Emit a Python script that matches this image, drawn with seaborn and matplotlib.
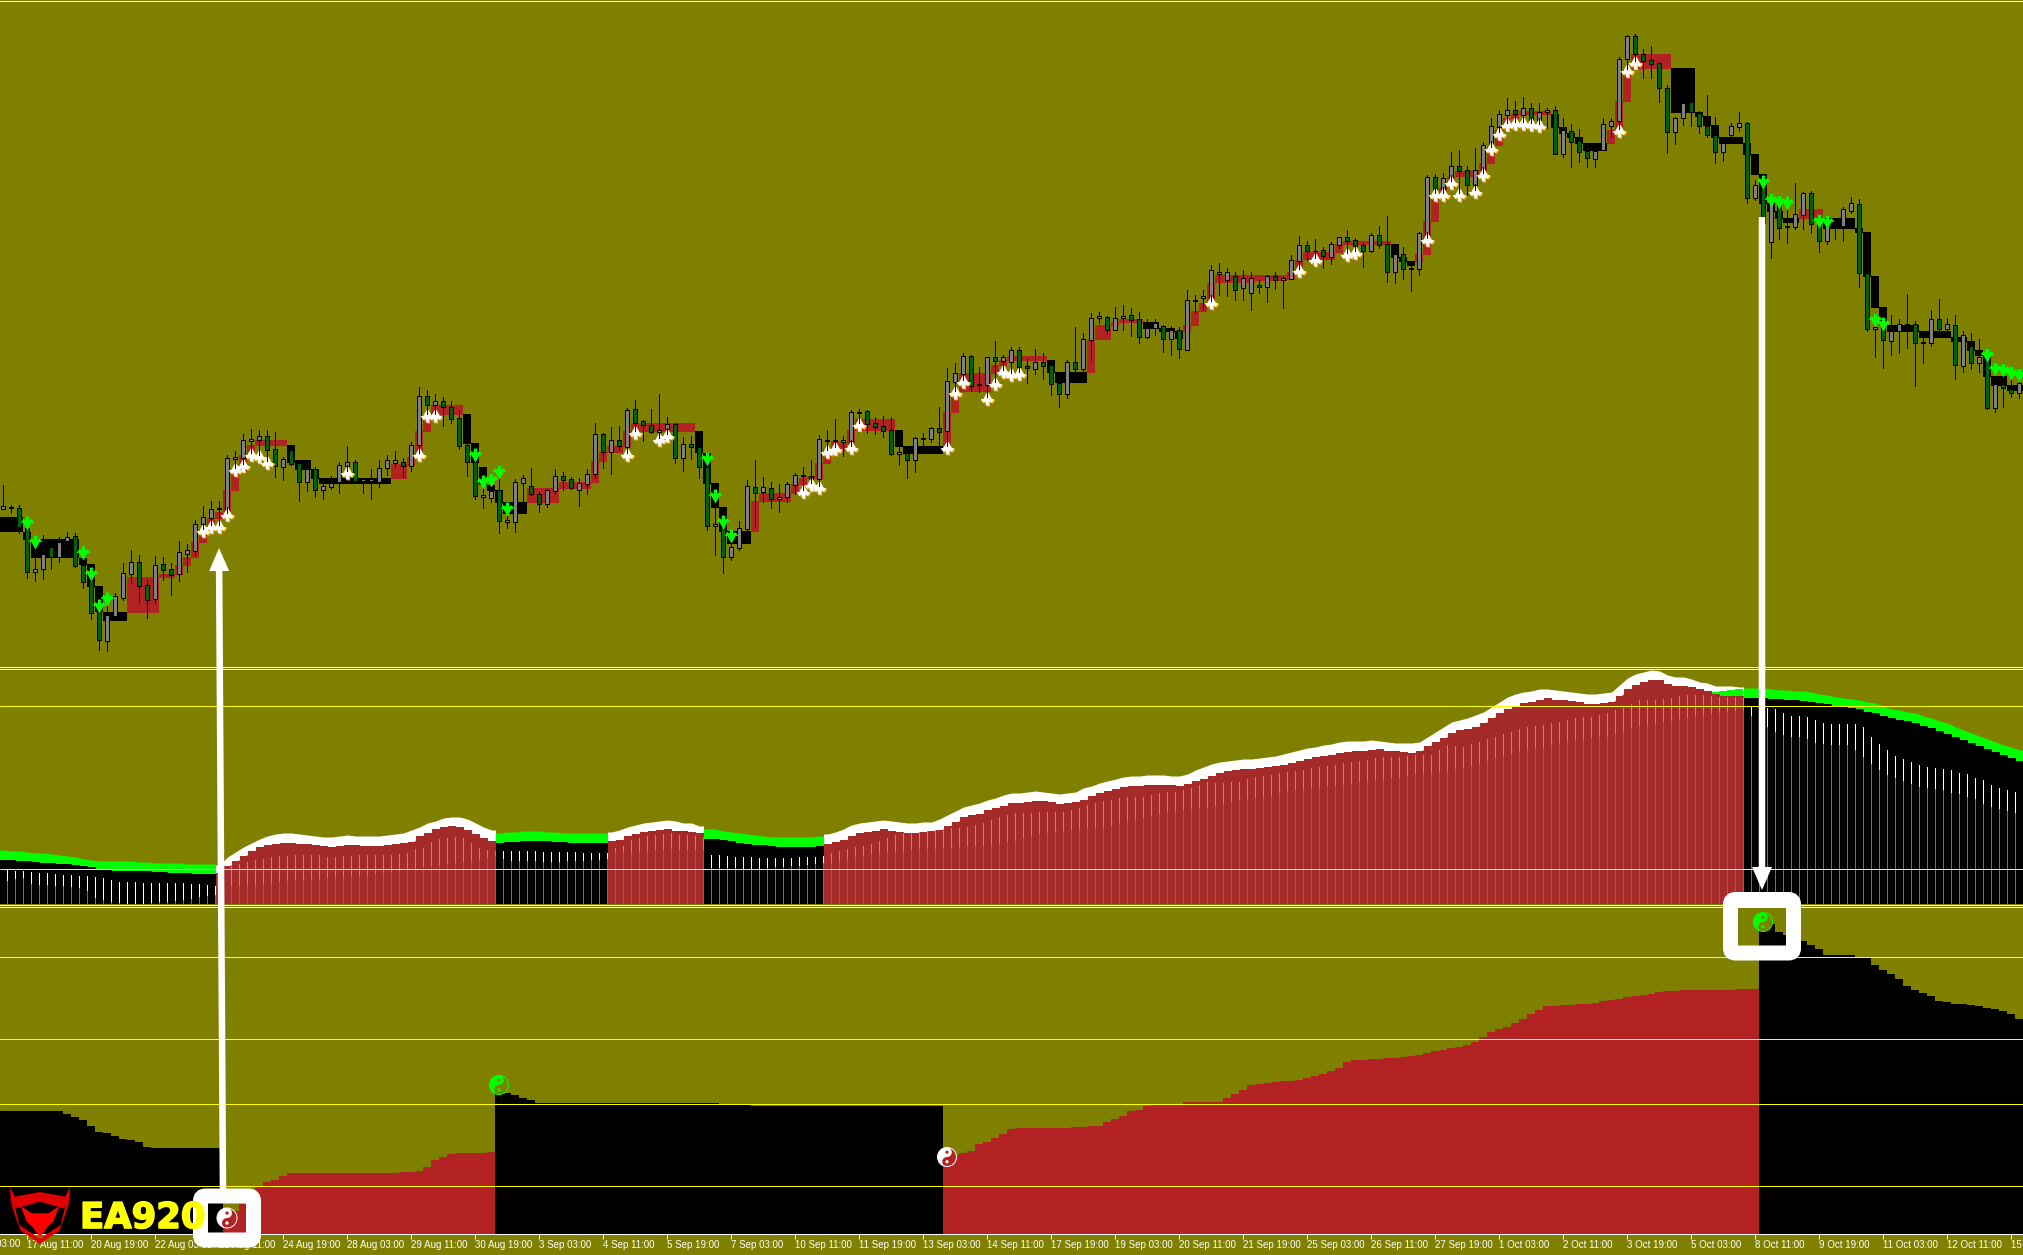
import numpy as np
import seaborn as sns
import matplotlib
matplotlib.use("Agg")
import matplotlib.pyplot as plt
from matplotlib.path import Path
from matplotlib.patches import Wedge, Circle, FancyBboxPatch, Polygon
import matplotlib.patheffects as pe

OLIVE = "#808000"
FIRE = "#B22222"
BROWN = "#A52A2A"
LIME = "#00FF00"
YEL = "#FFFF00"

# ---- candle values, section by section
base_a = 380
high_a = [315,375,375,420,480,465,480,472,457,460,530,560,660,670,640,548,510,525,600,528,530,550,484,492,420,378,363,363,225,213,163,148,150,150,156,232,195,240,262,262,310,288,247,198,240,295,268,240,225,213,235,185,20]
top_a = [378,382,385,443,568,522,500,485,472,469,555,600,697,706,649,580,546,546,616,556,553,568,517,511,432,412,388,384,235,232,181,178,169,169,208,236,211,250,268,268,319,308,256,247,247,298,298,265,241,241,247,196,48]
bot_a = [386,384,442,575,575,568,532,532,484,557,605,698,779,782,707,653,581,617,659,656,569,584,581,521,513,431,413,388,386,236,233,182,179,209,257,260,251,305,305,329,329,320,307,257,304,302,302,305,263,248,257,257,195]
low_a = [386,400,460,593,602,597,567,545,490,560,623,716,810,812,715,660,608,666,713,668,600,645,603,575,525,465,460,440,395,265,275,240,245,260,291,300,255,362,333,350,357,326,339,290,310,338,357,320,285,258,291,272,240]
kind_a = "kkggkkgkkg" "gggkkkkggk" "ggkkkkkkkk" "kkkggkggkg" "kkkkgkkkkk" "gkk"
boxt_a = [411,411,411,455,477,477,477,477,477,477,533,552,618,697,697,697,591,591,591,591,583,583,555,531,487,447,414,396,330,275,226,196,180,180,180,180,195,240,240,268,294,294,294,294,294,294,294,294,294,251,251,232,153]
boxb_a = [456,456,456,480,533,533,533,533,533,533,556,620,695,722,722,722,699,699,699,699,594,594,585,557,533,489,447,417,396,333,276,228,198,198,198,198,250,270,270,297,312,312,312,312,312,312,312,312,312,297,297,257,233]
boxc_a = "k"*16 + "r"*20 + "k"*13 + "r"*4

base_b = 370
high_b = [60,72,82,92,122,210,235,315,310,285,395,328,316,294,365,356,297,306,320,324,297,160,190,171,168,115,90,150,118,72,142,160,201,198,225,245,360,435,480,453,330,270,322,335,342,335,310,292,270,195,180,148]
top_b = [79,94,94,112,145,226,277,376,362,361,451,337,325,349,371,361,319,319,328,340,313,193,193,211,211,121,118,154,166,179,163,163,223,223,230,290,462,462,532,475,349,352,352,355,382,343,316,316,317,208,210,210]
bot_b = [104,104,112,146,227,275,377,380,383,452,455,455,338,371,401,401,362,329,353,359,341,311,245,245,227,230,158,166,185,185,178,263,263,230,290,467,467,560,560,533,476,368,365,386,386,382,344,318,327,327,212,214]
low_b = [135,140,167,158,236,318,387,413,396,488,473,485,397,375,425,410,372,360,358,407,372,324,293,312,240,270,200,212,190,225,210,278,302,268,323,480,555,608,570,540,485,470,395,413,425,395,372,382,360,370,262,250]
kind_b = "gkgggggkkg" "kkkggkkggk" "kkgkgkgggk" "kgkgggkgkk" "kgkgkkkkgk" "kk"
boxt_b = [137,105,105,105,105,132,219,291,346,361,396,396,396,354,354,354,354,336,336,336,336,273,246,228,228,183,159,159,159,159,159,159,159,159,183,250,339,411,484,484,484,393,369,369,369,369,342,324,318,279,237,213]
boxb_b = [186,135,135,135,135,222,278,345,362,398,432,432,432,399,399,399,399,357,357,357,357,339,276,249,249,231,186,186,186,186,186,186,186,186,250,342,414,485,522,522,522,486,396,396,396,396,372,345,327,327,282,240]
boxc_b = "r"*5 + "k"*8 + "r"*21 + "k"*7 + "r"*11

base_c = 300
high_c = [408,330,327,330,350,348,352,390,440,412,400,380,322,205,190,160,165,202,170,123,165,140,140,178,148,160,182,220,181,82,98,40,37,48,22,15,25,37,57,57,75,78,82,-30]
top_c = [421,337,335,334,370,379,391,457,458,415,414,385,385,244,220,168,169,252,172,172,172,151,151,199,187,187,196,250,187,187,118,55,49,52,55,49,46,58,84,70,79,91,91,0]
bot_c = [425,422,339,372,380,392,461,461,479,479,416,416,395,392,245,221,257,256,254,182,182,185,200,205,206,197,251,281,281,206,206,119,55,89,89,55,59,110,110,84,116,116,146,149]
low_c = [468,430,395,398,402,410,465,495,533,515,445,425,435,440,295,260,272,275,312,268,232,240,235,248,222,237,285,320,293,215,215,180,68,102,90,90,108,128,113,105,155,164,173,150]
kind_c = "kkk" "gggg" "k" "g" "kkk" "g" "kkk" "g" "kk" "g" "kk" "gg" "k" "ggg" "k" "g" "kkk" "g" "kk" "gg" "kk" "g" "k" "g" "k"
boxt_c = [430,390,357,357,357,357,357,390,438,438,438,438,438,336,280,220,220,220,220,195,180,168,168,168,168,168,180,216,216,216,216,120,75,75,67,57,57,57,66,66,84,84,93,75]
boxb_c = [453,432,393,393,393,393,393,441,462,462,462,462,462,438,339,276,276,276,276,222,198,184,184,184,184,184,219,249,249,249,249,219,120,120,78,69,69,69,87,87,96,96,118,96]
boxc_c = "r"*7 + "k"*6 + "r"*13 + "k"*5 + "r"*7 + "k"*5 + "r"

base_d = 260
high_d = [105,90,15,9,24,36,30,36]
top_d = [120,108,30,36,36,48,54,54]
bot_d = [123,114,114,42,60,90,84,99]
low_d = [159,150,150,105,108,120,120,150]
kind_d = "kkkkkgkk"
boxt_d = [153,129,69,45,45,45,45,45]
boxb_d = [198,156,129,69,69,69,69,69]
boxc_d = "r"*8

base_e = 80
high_e = [600,585,575,590,525,468,483,477,500,485,470,450,475,490,460,438,408,505,502,543,455,285,283,280,216,210,258,205,187,115,90,54,64,52,70,70,84,78,115,132,148,190,190,115,113]
top_e = [616,589,589,595,541,496,496,512,511,493,472,472,481,496,466,466,492,521,523,563,460,292,292,295,259,259,271,271,196,139,103,91,91,85,85,97,91,91,151,154,184,214,212,133,124]
bot_e = [622,622,601,601,596,543,512,514,529,530,494,482,497,512,512,494,575,575,566,566,566,461,326,326,295,272,314,314,271,192,140,104,103,104,119,119,97,221,221,185,215,233,236,209,137]
low_e = [640,665,627,684,597,590,540,555,563,552,505,540,532,560,517,505,605,608,597,632,585,495,360,360,322,360,345,350,300,220,175,150,148,148,145,153,145,222,230,260,245,260,260,210,172]
kind_e = "gkgkkkgkgkkgggkggkgkkkgkkggkkkkkgkgkkgkgggkkk"
boxt_e = [586,586,586,586,576,540,516,516,516,516,492,484,484,484,484,484,484,492,531,543,522,423,358,322,292,274,274,274,250,202,150,114,102,94,94,94,94,102,141,159,171,189,189,189,150]
boxb_e = [603,603,603,603,600,580,540,540,540,540,519,496,496,496,496,496,496,534,546,558,546,525,426,358,325,292,292,292,277,252,198,150,118,106,106,106,106,144,162,174,192,213,213,213,192]
boxc_e = "r"*17 + "k"*3 + "r"*17 + "k"*7 + "r"

base_f = 20
high_f = [110,45,42,88,78,125,195,290,245,240,272,225,292,360,308,277,305,480,495,520,525,530,490,516,514,583,585,595,560,532]
top_f = [118,48,48,103,121,130,205,295,248,245,278,317,344,370,319,310,310,496,495,553,553,619,583,520,520,610,619,608,568,550]
bot_f = [304,117,103,122,131,204,335,335,295,277,317,344,395,395,344,320,533,535,610,665,623,622,620,584,611,662,662,612,618,572]
low_f = [345,170,145,175,175,245,398,372,315,318,338,350,428,423,363,332,548,540,660,713,657,670,627,627,640,695,672,657,662,580]
kind_f = "kkgggggkkggggkkkgkgkgkkkggkkkk"
boxt_f = [243,147,102,102,102,102,102,144,144,144,276,288,315,351,351,351,369,402,462,549,573,594,594,567,567,567,594,594,594,594]
boxb_f = [330,246,147,147,147,147,147,279,279,279,291,318,354,372,372,372,405,465,552,576,597,609,609,597,597,597,627,627,627,627]
boxc_f = "r"*7 + "k"*16 + "r"*3 + "k"*4

base_g = 170
high_g = [87,300,430,442,435,448,373,453,485,420,388,445,435,484,490,507,535,575,580,588,595]
top_g = [103,308,470,469,482,462,462,463,516,448,448,463,466,496,527,562,565,642,643,656,640]
bot_g = [308,476,476,509,512,482,465,518,519,518,478,478,584,587,578,578,713,713,655,670,670]
low_g = [350,483,560,593,555,548,533,647,578,527,485,490,627,605,597,605,717,725,710,680,683]
kind_g = "ggkgkkkgkkgkgkgkgkggk"
boxt_g = [174,186,318,411,465,465,465,465,484,484,484,484,501,501,513,540,555,618,618,645,645]
boxb_g = [189,320,414,465,486,486,486,486,504,504,504,504,516,516,543,558,620,648,648,662,662]
boxc_g = "k"*21

# ---- signal arrows on the candles
up_idx = [25,26,27,28,29,30,31,32,33,43,52,53,54,78,79,82,83,100,101,102,103,104,106,107,118,119,120,123,124,125,126,127,151,162,164,168,169,178,179,180,181,182,184,185,186,187,188,189,190,191,192,202,203,204]
up_tip = [523,519,519,507,462,458,447,449,455,465,447,408,408,447,425,432,428,484,477,480,444,441,440,417,440,385,374,391,376,364,367,366,295,263,252,247,245,232,187,187,175,187,184,167,141,126,117,116,116,117,118,123,63,55]
down_idx = [3,4,10,11,12,13,59,60,61,62,63,88,89,90,91,220,221,222,223,227,228,234,235,248,249,250,251,252]
down_tip = [516,535,546,567,599,592,448,475,473,465,502,452,489,515,529,175,193,195,196,214,215,313,317,348,362,363,366,368]

# ---- middle panel
bar_top = [860,860,861,861,862,863,863,864,864,865,866,867,869,870,871,871,871,871,871,872,872,873,873,873,874,874,874,873,
 866,861,856,851,847,845,844,843,843,844,844,845,846,847,846,845,845,846,846,846,845,844,843,842,836,833,829,827,826,827,830,834,838,841,
 843,842,842,841,841,841,841,842,842,843,843,843,843,843,
 841,840,836,834,832,831,830,829,831,831,832,833,
 839,839,840,841,843,844,845,845,846,847,847,847,847,847,846,
 844,842,840,836,833,832,831,829,831,832,
 833,833,832,831,830,826,822,817,815,814,810,808,806,803,803,802,801,801,802,804,803,802,800,796,793,791,789,787,786,786,785,
 785,785,785,786,784,781,779,776,773,771,770,769,769,768,767,766,765,763,761,759,757,756,755,753,752,751,751,750,749,751,751,752,753,751,746,742,738,733,730,729,727,723,718,713,709,706,703,702,700,698,700,700,701,702,704,704,703,702,696,689,685,682,680,680,684,686,686,687,689,691,694,696,696,696,
 698,698,698,699,699,700,700,701,702,703,704,706,707,708,709,712,713,716,718,720,721,723,726,728,731,734,737,740,743,746,749,752,755,758,761]
env_top = [850,851,851,852,853,853,854,855,856,857,859,860,861,861,861,861,861,862,862,863,863,863,863,864,864,864,864,865,
 857,852,847,843,839,836,834,833,833,834,835,836,837,837,836,835,836,836,836,836,835,834,833,830,827,823,821,818,817,817,819,823,827,830,
 833,832,832,831,831,831,832,832,833,833,833,833,833,833,
 832,830,827,825,823,822,821,820,821,823,823,826,
 829,829,831,832,833,834,835,836,837,837,837,837,837,837,836,
 834,832,829,825,823,822,821,820,821,822,
 823,823,822,822,819,815,811,807,805,803,800,798,795,793,793,792,791,792,793,794,793,792,788,786,783,781,779,777,776,776,775,
 775,775,776,776,774,770,767,764,762,761,760,759,759,758,757,756,754,752,750,748,747,745,744,742,741,741,741,740,741,742,743,743,743,742,737,732,727,722,720,718,715,712,707,702,697,694,692,691,689,689,690,691,692,693,694,694,693,692,685,678,674,672,670,671,675,677,677,679,682,683,686,686,686,687,
 688,688,688,689,690,690,691,691,692,694,695,697,698,699,700,702,703,706,709,710,712,713,716,718,721,723,727,730,733,736,739,742,745,747,750]
hist_upper = [870,871,871,872,873,873,874,875,875,876,876,877,878,880,882,882,882,883,883,883,883,883,883,884,884,885,886,890,
 866,864,862,860,859,857,856,856,855,855,855,855,857,857,856,856,855,855,855,855,855,854,853,849,848,842,839,838,837,838,843,848,850,851,
 851,851,851,851,851,852,852,852,852,852,853,853,853,853,
 848,846,840,838,836,835,834,833,835,835,836,837,
 855,855,856,857,857,857,858,858,858,858,858,857,857,857,856,
 853,851,849,847,846,844,841,838,835,833,
 833,832,831,830,829,828,828,827,825,823,820,817,815,813,813,813,812,812,812,812,810,808,805,803,801,800,798,797,797,797,795,793,792,792,790,788,785,782,783,783,782,782,779,777,776,775,773,772,771,770,768,767,766,765,763,762,761,760,758,757,757,757,756,755,755,755,750,745,746,747,744,742,739,737,734,732,729,727,726,725,723,722,720,718,717,717,715,713,710,708,704,700,700,700,699,698,696,695,695,695,696,697,697,697,697,
 707,707,708,709,713,716,716,717,720,723,724,724,724,724,727,737,744,750,756,759,762,765,767,768,769,770,773,774,778,780,785,788,790,792,793]
hist_lower = [880,878,877,883,884,884,885,885,886,887,890,897,899,901,902,903,903,903,902,901,901,900,899,898,896,895,894,893,
 885,885,884,884,883,882,881,880,879,879,878,878,877,876,876,875,875,874,873,872,871,870,869,868,866,865,864,863,862,861,860,859,857,855,
 858,860,860,860,860,861,861,861,860,860,860,859,859,858,
 851,851,852,851,850,849,849,848,849,849,849,849,
 867,867,867,867,868,868,868,867,866,866,865,865,864,863,862,
 862,860,858,856,855,853,852,851,851,850,
 849,848,848,848,847,847,846,845,845,845,844,843,841,840,837,835,833,832,831,830,829,828,827,827,826,825,822,820,818,817,815,813,811,810,809,808,807,807,805,803,801,799,798,797,796,795,792,790,789,788,787,786,785,785,784,783,781,780,779,778,777,777,775,773,772,772,771,770,768,767,765,763,760,757,755,753,750,748,747,747,744,742,740,739,738,737,736,736,733,730,727,725,724,723,721,720,718,717,715,714,713,712,711,710,709,
 715,720,726,731,734,736,736,738,742,743,744,744,744,749,756,763,769,774,777,780,783,786,787,788,789,792,793,796,798,803,806,808,810,812,813]
hist_state = "k"*27 + "r"*35 + "k"*14 + "r"*12 + "k"*15 + "r"*115 + "k"*35
under_idx = [213,214,215,216,217]
under_top = [693,692,691,690,689]

# ---- lower panel
area_top = [1111]*8 + [1114,1117,1120,1126,1132,1133,1136,1139,1140,1142,1147] + [1148]*9 + \
 [1213,1211,1204,1193,1186,1182,1180,1176] + [1173]*14 + [1172,1172,1171,1167,1160,1157,1154,1153,1153,1153,1153,1152] + \
 [1093,1093,1095,1098,1100] + [1103]*23 + [1104]*4 + [1106]*24 + \
 [1160,1155,1153,1151,1144,1142,1138,1134,1129] + [1128]*7 + [1127,1127,1126,1126,1122,1119,1116,1111,1110,1106] + [1104]*4 + [1102]*5 + \
 [1098,1094,1090,1085,1084,1083,1082,1081,1081,1080,1078,1076,1074,1071,1068] + \
 [1062,1060,1060,1059,1059,1058,1058,1057,1056,1055,1053,1051,1050,1048,1047,1045,1042,1037,1032,1029,1027,1023,1019,1014,1010,1006,1006,1005,1005,1004,1004,1003,1001,1000,999,997,996,995,994,992,991,991] + [990]*7 + [989]*3 + \
 [922,924,932,935,937,941,945,949,955,955,955,955,957,957,965,970,974,979,986,990,993,996,1001,1002,1004,1004,1005,1006,1008,1009,1011,1014,1019]
area_state = "k"*28 + "r"*34 + "k"*56 + "r"*102 + "k"*33

tick_labels = ["17 Aug 11:00","20 Aug 19:00","22 Aug 03:00","23 Aug 11:00","24 Aug 19:00","28 Aug 03:00","29 Aug 11:00","30 Aug 19:00",
 "3 Sep 03:00","4 Sep 11:00","5 Sep 19:00","7 Sep 03:00","10 Sep 11:00","11 Sep 19:00","13 Sep 03:00","14 Sep 11:00","17 Sep 19:00",
 "19 Sep 03:00","20 Sep 11:00","21 Sep 19:00","25 Sep 03:00","26 Sep 11:00","27 Sep 19:00","1 Oct 03:00","2 Oct 11:00","3 Oct 19:00",
 "5 Oct 03:00","8 Oct 11:00","9 Oct 19:00","11 Oct 03:00","12 Oct 11:00","15 Oct 19:00"]

# ---- assemble
def conv(*sections):
    return np.concatenate([b + np.array(v, float) / 3 for b, v in sections])

bases = [base_a, base_b, base_c, base_d, base_e, base_f, base_g]
high = conv(*zip(bases, [high_a, high_b, high_c, high_d, high_e, high_f, high_g]))
top = conv(*zip(bases, [top_a, top_b, top_c, top_d, top_e, top_f, top_g]))
bot = conv(*zip(bases, [bot_a, bot_b, bot_c, bot_d, bot_e, bot_f, bot_g]))
low = conv(*zip(bases, [low_a, low_b, low_c, low_d, low_e, low_f, low_g]))
boxt = conv(*zip(bases, [boxt_a, boxt_b, boxt_c, boxt_d, boxt_e, boxt_f, boxt_g]))
boxb = conv(*zip(bases, [boxb_a, boxb_b, boxb_c, boxb_d, boxb_e, boxb_f, boxb_g]))
kinds = kind_a + kind_b + kind_c + kind_d + kind_e + kind_f + kind_g
boxc = boxc_a + boxc_b + boxc_c + boxc_d + boxc_e + boxc_f + boxc_g
n = len(high)
idx = np.arange(n)
kinds = (kinds + "k"*n)[:n]

sns.set_theme(style="white")
plt.rcParams["font.family"] = ["Liberation Sans", "DejaVu Sans"]
W, H = 2023, 1255
fig = plt.figure(figsize=(W/100, H/100), dpi=100, facecolor=OLIVE)

def make_ax(ytop, ybot):
    ax = fig.add_axes([0, 1 - ybot/H, 1, (ybot - ytop)/H], facecolor=OLIVE)
    for s in ax.spines.values():
        s.set_visible(False)
    return ax

XLIM = (-3.5/8, (W - 3.5)/8)
P1B, P2B, P3B = 666, 904, 1234
ax1 = make_ax(0, P1B)
ax2 = make_ax(669, P2B)
ax3 = make_ax(907, P3B)
px = 0.72

# upper panel
c_box = [FIRE if c == "r" else "black" for c in boxc]
ax1.bar(idx, boxb - boxt, bottom=P1B - boxb, width=1, color=c_box, linewidth=0, antialiased=False, zorder=1)

c_body = ["#006400" if k == "g" else "#808080" for k in kinds]
ax1.vlines(idx, P1B - low, P1B - high, color="black", lw=px, antialiased=False, zorder=3)
ax1.bar(idx, np.maximum(bot - top, .5), bottom=P1B - bot, width=.5, color=c_body, edgecolor="black",
        linewidth=px, antialiased=False, zorder=4)

# swept-back arrow: a tail, two wide barbs and a tip
arrow = Path([(-.24, -1), (.24, -1), (.24, -.42), (.62, -.62), (1, -.08), (.62, -.1), (0, 1), (-.62, -.1), (-1, -.08), (-.62, -.62), (-.24, -.42), (-.24, -1)])
arrow_d = Path(arrow.vertices * np.array([1, -1]))
up_y = P1B - (np.array(up_tip) + 7)
down_y = P1B - (np.array(down_tip) + 7)
ax1.scatter(np.array(up_idx) + .1, up_y - .6, s=100, marker=arrow, c="#FFB000", linewidths=0, zorder=5)
ax1.scatter(up_idx, up_y, s=100, marker=arrow, c="white", linewidths=0, zorder=5.1)
ax1.scatter(down_idx, down_y, s=100, marker=arrow_d, c=LIME, linewidths=0, zorder=5.1)
ax1.vlines(up_idx, up_y + 1, up_y + 7, color="black", lw=px, antialiased=False, zorder=5.2)
ax1.set_ylim(0, P1B)

# middle panel
bt = np.array(bar_top, float); et = np.array(env_top, float)
hu = np.array(hist_upper, float); hl = np.array(hist_lower, float)
state = list(hist_state)
sns.barplot(x=idx, y=P2B - bt, hue=state, palette={"k": "black", "r": BROWN}, native_scale=True, dodge=False,
            width=7/8, saturation=1, legend=False, errorbar=None, linewidth=0, ax=ax2)
for p in ax2.patches:
    p.set_antialiased(False)
    p.set_zorder(1)
# the thick signal line: one filled ribbon per colour run, drawn under the bars
start = 0
for i in range(1, n + 1):
    if i == n or state[i] != state[start]:
        x = np.r_[idx[start] - .5, idx[start:i], idx[i-1] + .5]
        y0 = np.r_[bt[start], bt[start:i], bt[i-1]]
        y1 = np.r_[et[start], et[start:i], et[i-1]]
        ax2.fill_between(x, P2B - y0 - 1, P2B - y1, color="white" if state[start] == "r" else LIME,
                         linewidth=0, zorder=.5)
        start = i
ax2.bar(under_idx, bt[under_idx] - np.array(under_top), bottom=P2B - bt[under_idx], width=1, color=LIME,
        linewidth=0, antialiased=False, zorder=.6)
c_up = [BROWN if s == "r" else "black" for s in state]
c_hist = [LIME if s == "r" else "white" for s in state]
ax2.vlines(idx + .5, P2B - hu, P2B - bt, colors=c_up, lw=px, antialiased=False, zorder=2)
ax2.vlines(idx + .5, P2B - hl, P2B - hu, colors=c_hist, lw=px, antialiased=False, zorder=2.2)
for y in (705.5, 868.5):
    ax2.axhline(P2B - y, color=YEL, lw=px, zorder=5)
ax2.set_ylim(0, P2B - 669)

# lower panel
at = np.array(area_top, float)
sns.barplot(x=idx, y=P3B - at, hue=list(area_state), palette={"k": "black", "r": FIRE}, native_scale=True, dodge=False,
            width=1, saturation=1, legend=False, errorbar=None, linewidth=0, ax=ax3)
for p in ax3.patches:
    p.set_antialiased(False)
for y in (956.5, 1038.5, 1103.5, 1185.5):
    ax3.axhline(P3B - y, color=YEL, lw=px, zorder=5)
ax3.set_ylim(0, P3B - 907)
ax3.spines["bottom"].set_visible(True)
ax3.spines["bottom"].set_color("white")
ax3.spines["bottom"].set_linewidth(px)
tick_pos = [(27 + 64*k - 3.5)/8 for k in range(len(tick_labels))]
ax3.set_xticks(tick_pos)
ax3.set_xticklabels(tick_labels, ha="left", color="white", fontsize=7.0)
ax3.tick_params(axis="x", bottom=True, length=3.5, width=px, color="white", pad=0.6)
ax3.set_yticks([])
ax3.set_ylabel(""); ax3.set_xlabel("")

for ax in (ax1, ax2):
    ax.set_xticks([]); ax.set_yticks([]); ax.set_xlabel(""); ax.set_ylabel("")
for ax in (ax1, ax2, ax3):
    ax.set_xlim(*XLIM)

# overlay in picture pixels: separators, call-outs, logo
ov = fig.add_axes([0, 0, 1, 1], facecolor="none", zorder=10)
ov.set_xlim(0, W); ov.set_ylim(H, 0); ov.axis("off")
for y in (0.5, 666.5, 668.5, 904.5, 906.5):
    ov.plot([0, W], [y, y], color="white", lw=px, antialiased=False, solid_capstyle="butt")
ov.set_xlim(0, W); ov.set_ylim(H, 0)
ov.text(-37, 1244, "16 Aug 03:00", color="white", fontsize=7.0, va="center", ha="left", clip_on=False)

def callout(x0, y0, x1, y1):
    ov.add_patch(FancyBboxPatch((x0, y0), x1 - x0, y1 - y0, boxstyle="round,pad=0,rounding_size=5",
                                fc="none", ec="white", lw=15*px, zorder=6))
callout(200.5, 1196, 253.5, 1240)
callout(1730.5, 899.5, 1793.5, 953)

def big_arrow(x0, y0, x1, y1):
    ov.annotate("", xy=(x1, y1), xytext=(x0, y0),
                arrowprops=dict(arrowstyle="simple,head_length=1.66,head_width=1.44,tail_width=0.47", color="white",
                                lw=0, mutation_scale=10, shrinkA=0, shrinkB=0), zorder=7)
big_arrow(223, 1192, 219, 548)
big_arrow(1762, 217, 1762, 890)

def yin(cx, cy, r, main, other):
    ov.add_patch(Wedge((cx, cy), r, 90, 270, fc=main, ec="none", zorder=8))
    ov.add_patch(Wedge((cx, cy), r, -90, 90, fc=other, ec="none", zorder=8))
    ov.add_patch(Circle((cx, cy - r/2), r/2, fc=main, ec="none", zorder=8.1))
    ov.add_patch(Circle((cx, cy + r/2), r/2, fc=other, ec="none", zorder=8.1))
    ov.add_patch(Circle((cx, cy - r/2), r/6, fc=other, ec="none", zorder=8.2))
    ov.add_patch(Circle((cx, cy + r/2), r/6, fc=main, ec="none", zorder=8.2))
    ov.add_patch(Circle((cx, cy), r, fc="none", ec=main, lw=px, zorder=8.3))
yin(227, 1218, 10, "white", FIRE)
yin(499, 1085, 9.5, LIME, OLIVE)
yin(947, 1157, 9.5, "white", FIRE)
yin(1763, 922, 9.5, LIME, OLIVE)

# logo
def z1(pts):
    return [(x/3, 1100 + y/3) for x, y in pts]
ov.add_patch(Polygon(z1([(30,262),(45,290),(120,276),(195,290),(210,262),(208,300),(190,325),(120,305),(50,325),(32,300)]),
                     fc="#E00000", ec="none", zorder=8))
ov.add_patch(Polygon(z1([(30,300),(46,350),(62,392),(120,432),(178,392),(194,350),(210,300),(196,315),(182,375),(120,416),(58,375),(44,315)]),
                     fc="#E00000", ec="none", zorder=8))
ov.add_patch(Polygon(z1([(62,318),(95,340),(145,340),(178,318),(160,365),(145,378),(120,412),(95,378),(80,365)]),
                     fc="#FF0000", ec="none", zorder=8))
ov.text(80, 1228, "EA920", color=YEL, fontsize=25.5, fontweight="bold", family="DejaVu Sans", va="baseline", ha="left",
        path_effects=[pe.withStroke(linewidth=1.2, foreground=YEL)], zorder=7.5)

fig.savefig("out.png", dpi=100, facecolor=OLIVE)
